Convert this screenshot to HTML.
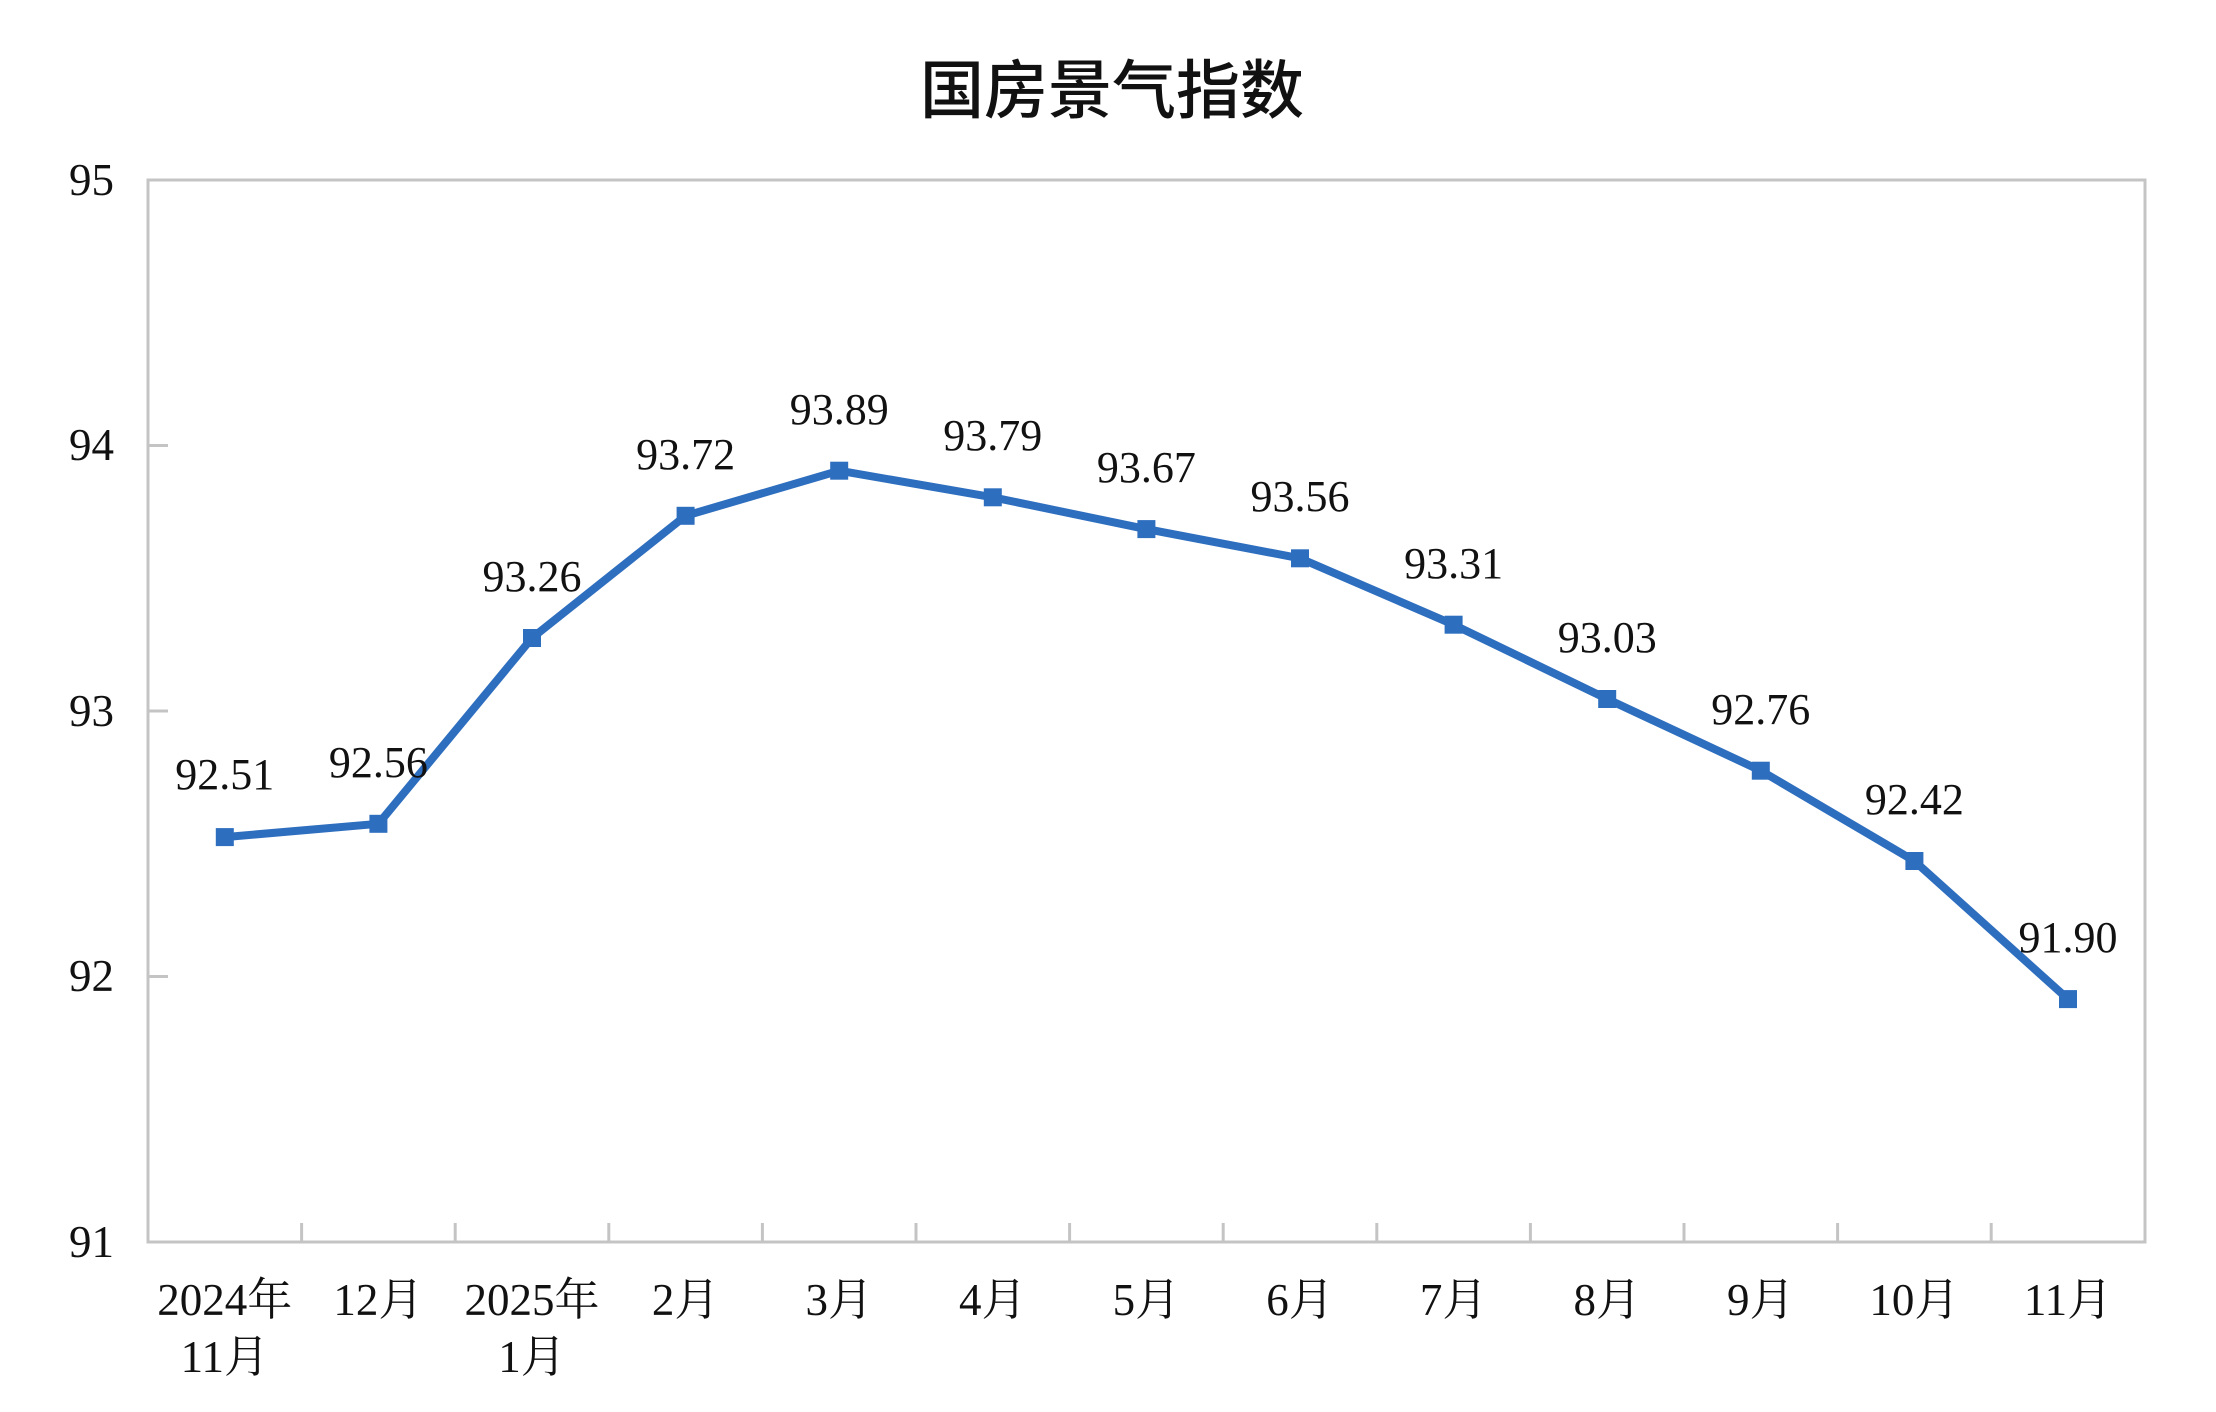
<!DOCTYPE html>
<html><head><meta charset="utf-8"><style>html,body{margin:0;padding:0;background:#fff}svg{display:block}</style></head>
<body>
<svg width="2216" height="1412" viewBox="0 0 2216 1412" xmlns="http://www.w3.org/2000/svg">
<rect width="2216" height="1412" fill="#fff"/>
<text x="1112" y="113" text-anchor="middle" font-family="'Noto Sans CJK SC','WenQuanYi Zen Hei',sans-serif" font-size="64" font-weight="500" fill="#111">国房景气指数</text>
<rect x="148" y="180" width="1997" height="1062" fill="none" stroke="#c4c4c4" stroke-width="3"/>
<g stroke="#c4c4c4" stroke-width="3">
<line x1="148" y1="445.5" x2="168" y2="445.5"/>
<line x1="148" y1="711" x2="168" y2="711"/>
<line x1="148" y1="976.5" x2="168" y2="976.5"/>
<line x1="301.6" y1="1223" x2="301.6" y2="1242"/>
<line x1="455.2" y1="1223" x2="455.2" y2="1242"/>
<line x1="608.8" y1="1223" x2="608.8" y2="1242"/>
<line x1="762.4" y1="1223" x2="762.4" y2="1242"/>
<line x1="916" y1="1223" x2="916" y2="1242"/>
<line x1="1069.6" y1="1223" x2="1069.6" y2="1242"/>
<line x1="1223.2" y1="1223" x2="1223.2" y2="1242"/>
<line x1="1376.8" y1="1223" x2="1376.8" y2="1242"/>
<line x1="1530.4" y1="1223" x2="1530.4" y2="1242"/>
<line x1="1684" y1="1223" x2="1684" y2="1242"/>
<line x1="1837.6" y1="1223" x2="1837.6" y2="1242"/>
<line x1="1991.2" y1="1223" x2="1991.2" y2="1242"/>
</g>
<g font-family="'Liberation Serif','Noto Serif CJK SC',serif" font-size="45" fill="#111" text-anchor="end">
<text x="114" y="195">95</text>
<text x="114" y="460">94</text>
<text x="114" y="726">93</text>
<text x="114" y="991">92</text>
<text x="114" y="1257">91</text>
</g>
<g font-family="'Liberation Serif','Noto Serif CJK SC',serif" font-size="45" fill="#111" text-anchor="middle">
<text x="224.8" y="1315">2024年</text><text x="224.8" y="1372">11月</text>
<text x="378.4" y="1315">12月</text>
<text x="532" y="1315">2025年</text><text x="532" y="1372">1月</text>
<text x="685.6" y="1315">2月</text>
<text x="839.2" y="1315">3月</text>
<text x="992.8" y="1315">4月</text>
<text x="1146.4" y="1315">5月</text>
<text x="1300" y="1315">6月</text>
<text x="1453.6" y="1315">7月</text>
<text x="1607.2" y="1315">8月</text>
<text x="1760.8" y="1315">9月</text>
<text x="1914.4" y="1315">10月</text>
<text x="2068" y="1315">11月</text>
</g>
<g transform="translate(0,-4)">
<polyline fill="none" stroke="#2e6ebf" stroke-width="8" stroke-linejoin="round" points="224.8,841.1 378.4,827.8 532,642 685.6,519.8 839.2,474.7 992.8,501.3 1146.4,533.1 1300,562.3 1453.6,628.7 1607.2,703 1760.8,774.7 1914.4,865 2068,1003.1"/>
<g fill="#2e6ebf">
<rect x="215.8" y="832.1" width="18" height="18"/>
<rect x="369.4" y="818.8" width="18" height="18"/>
<rect x="523" y="633" width="18" height="18"/>
<rect x="676.6" y="510.8" width="18" height="18"/>
<rect x="830.2" y="465.7" width="18" height="18"/>
<rect x="983.8" y="492.3" width="18" height="18"/>
<rect x="1137.4" y="524.1" width="18" height="18"/>
<rect x="1291" y="553.3" width="18" height="18"/>
<rect x="1444.6" y="619.7" width="18" height="18"/>
<rect x="1598.2" y="694" width="18" height="18"/>
<rect x="1751.8" y="765.7" width="18" height="18"/>
<rect x="1905.4" y="856" width="18" height="18"/>
<rect x="2059" y="994.1" width="18" height="18"/>
</g>
</g>
<g font-family="'Liberation Serif',serif" font-size="44" fill="#111" text-anchor="middle">
<text x="224.8" y="789">92.51</text>
<text x="378.4" y="777">92.56</text>
<text x="532" y="591">93.26</text>
<text x="685.6" y="469">93.72</text>
<text x="839.2" y="424">93.89</text>
<text x="992.8" y="450">93.79</text>
<text x="1146.4" y="482">93.67</text>
<text x="1300" y="511">93.56</text>
<text x="1453.6" y="578">93.31</text>
<text x="1607.2" y="652">93.03</text>
<text x="1760.8" y="724">92.76</text>
<text x="1914.4" y="814">92.42</text>
<text x="2068" y="952">91.90</text>
</g>
</svg>
</body></html>
